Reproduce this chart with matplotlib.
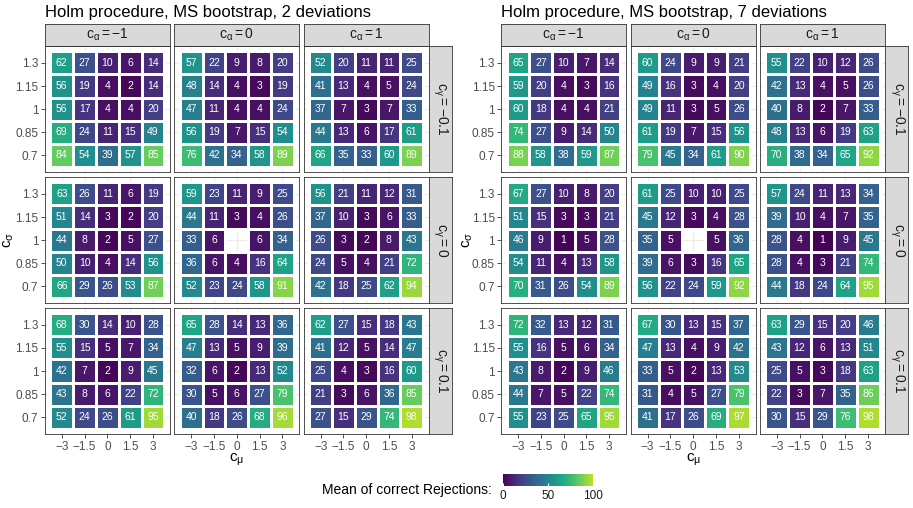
import numpy as np
import matplotlib
matplotlib.use("Agg")
import matplotlib.pyplot as plt
from matplotlib.cm import ScalarMappable
from matplotlib.colors import Normalize, ListedColormap

plt.rcParams["font.family"] = ["Liberation Sans", "DejaVu Sans"]
plt.rcParams["mathtext.fontset"] = "custom"
plt.rcParams["mathtext.rm"] = "Liberation Sans"
plt.rcParams["mathtext.it"] = "Liberation Sans"
plt.rcParams["mathtext.sf"] = "Liberation Sans"

# --- axes values ---
c_mu = [-3, -1.5, 0, 1.5, 3]
c_sigma = [1.3, 1.15, 1, 0.85, 0.7]          # top -> bottom, same order as rows below
c_alpha = [-1, 0, 1]
c_gamma = [-0.1, 0, 0.1]
mu_labels = ["\u22123", "\u22121.5", "0", "1.5", "3"]
sigma_labels = ["1.3", "1.15", "1", "0.85", "0.7"]
alpha_labels = [r"$\mathregular{c_{\alpha} = -1}$", r"$\mathregular{c_{\alpha} = 0}$",
                r"$\mathregular{c_{\alpha} = 1}$"]
gamma_labels = [r"$\mathregular{c_{\gamma} = -0.1}$", r"$\mathregular{c_{\gamma} = 0}$",
                r"$\mathregular{c_{\gamma} = 0.1}$"]
nan = np.nan

# --- 2 deviations: one list per c_gamma, 3 grids (c_alpha = -1, 0, 1) ---
dev2_gneg = [
    [[62, 27, 10, 6, 14], [56, 19, 4, 2, 14], [56, 17, 4, 4, 20], [69, 24, 11, 15, 49], [84, 54, 39, 57, 85]],
    [[57, 22, 9, 8, 20], [48, 14, 4, 3, 19], [47, 11, 4, 4, 24], [56, 19, 7, 15, 54], [76, 42, 34, 58, 89]],
    [[52, 20, 11, 11, 25], [41, 13, 4, 5, 24], [37, 7, 3, 7, 33], [44, 13, 6, 17, 61], [66, 35, 33, 60, 89]],
]
dev2_gzero = [
    [[63, 26, 11, 6, 19], [51, 14, 3, 2, 20], [44, 8, 2, 5, 27], [50, 10, 4, 14, 56], [66, 29, 26, 53, 87]],
    [[59, 23, 11, 9, 25], [44, 11, 3, 4, 26], [33, 6, nan, 6, 34], [36, 6, 4, 16, 64], [52, 23, 24, 58, 91]],
    [[56, 21, 11, 12, 31], [37, 10, 3, 6, 33], [26, 3, 2, 8, 43], [24, 5, 4, 21, 72], [42, 18, 25, 62, 94]],
]
dev2_gpos = [
    [[68, 30, 14, 10, 28], [55, 15, 5, 7, 34], [42, 7, 2, 9, 45], [43, 8, 6, 22, 72], [52, 24, 26, 61, 95]],
    [[65, 28, 14, 13, 36], [47, 13, 5, 9, 39], [32, 6, 2, 13, 52], [30, 5, 6, 27, 79], [40, 18, 26, 68, 96]],
    [[62, 27, 15, 18, 43], [41, 12, 5, 14, 47], [25, 4, 3, 16, 60], [21, 3, 6, 36, 85], [27, 15, 29, 74, 98]],
]

# --- 7 deviations ---
dev7_gneg = [
    [[65, 27, 10, 7, 14], [59, 20, 4, 3, 16], [60, 18, 4, 4, 21], [74, 27, 9, 14, 50], [88, 58, 38, 59, 87]],
    [[60, 24, 9, 9, 21], [49, 16, 3, 4, 20], [49, 11, 3, 5, 26], [61, 19, 7, 15, 56], [79, 45, 34, 61, 90]],
    [[55, 22, 10, 12, 26], [42, 13, 4, 5, 26], [40, 8, 2, 7, 33], [48, 13, 6, 19, 63], [70, 38, 34, 65, 92]],
]
dev7_gzero = [
    [[67, 27, 10, 8, 20], [51, 15, 3, 3, 21], [46, 9, 1, 5, 28], [54, 11, 4, 13, 58], [70, 31, 26, 54, 89]],
    [[61, 25, 10, 10, 25], [45, 12, 3, 4, 28], [35, 5, nan, 5, 36], [39, 6, 3, 16, 65], [56, 22, 24, 59, 92]],
    [[57, 24, 11, 13, 34], [39, 10, 4, 7, 35], [28, 4, 1, 9, 45], [28, 4, 3, 21, 74], [44, 18, 24, 64, 95]],
]
dev7_gpos = [
    [[72, 32, 13, 12, 31], [55, 16, 5, 6, 34], [43, 8, 2, 9, 46], [44, 7, 5, 22, 74], [55, 23, 25, 65, 95]],
    [[67, 30, 13, 15, 37], [47, 13, 4, 9, 42], [33, 5, 2, 13, 53], [31, 4, 5, 27, 79], [41, 17, 26, 69, 97]],
    [[63, 29, 15, 20, 46], [43, 12, 6, 13, 51], [25, 5, 3, 18, 63], [22, 3, 7, 35, 86], [30, 15, 29, 76, 98]],
]

W, H = 913, 508
fig = plt.figure(figsize=(W / 100, H / 100), dpi=100)
BORDER = "#333333"
# viridis cut short at the yellow-green end, like the reference
CMAP = ListedColormap(plt.get_cmap("viridis")(np.linspace(0, 0.9, 256)))


def px_axes(x0, y0, x1, y1):
    return fig.add_axes([x0 / W, 1 - y1 / H, (x1 - x0) / W, (y1 - y0) / H])


def draw_facet(ax, grid, left, bottom):
    z = np.ma.masked_invalid(np.array(grid, dtype=float))
    xe = np.arange(-3.75, 3.76, 1.5)
    ye = np.array([1.375, 1.225, 1.075, 0.925, 0.775, 0.625])
    # grid lines (theme_bw)
    for v in [-2.25, -0.75, 0.75, 2.25]:
        ax.axvline(v, color="#F4F4F4", lw=0.5, zorder=0)
    for v in [1.225, 1.075, 0.925, 0.775]:
        ax.axhline(v, color="#F4F4F4", lw=0.5, zorder=0)
    for v in c_mu:
        ax.axvline(v, color="#EBEBEB", lw=0.9, zorder=0)
    for v in c_sigma:
        ax.axhline(v, color="#EBEBEB", lw=0.9, zorder=0)
    ax.pcolormesh(xe, ye, z, cmap=CMAP, vmin=0, vmax=100,
                  edgecolors="white", linewidth=0.9, zorder=1)
    for i, s in enumerate(c_sigma):
        for j, m in enumerate(c_mu):
            v = grid[i][j]
            if not np.isnan(v):
                ax.text(m, s, f"{int(v)}", ha="center", va="center",
                        color="white", fontsize=7.5, zorder=2)
    ax.set_xlim(-4.125, 4.125)
    ax.set_ylim(0.5875, 1.4125)
    ax.set_xticks(c_mu)
    ax.set_yticks(c_sigma)
    ax.tick_params(length=3, width=0.6, color=BORDER, labelsize=8.5,
                   labelcolor="#4D4D4D", pad=1.5)
    ax.set_xticklabels(mu_labels if bottom else [])
    ax.set_yticklabels(sigma_labels if left else [])
    if not left:
        ax.tick_params(axis="y", length=0)
    if not bottom:
        ax.tick_params(axis="x", length=0)
    for sp in ax.spines.values():
        sp.set_color(BORDER)
        sp.set_linewidth(0.6)


def strip(x0, y0, x1, y1, label, rot=0):
    ax = px_axes(x0, y0, x1, y1)
    ax.set_facecolor("#D9D9D9")
    ax.set_xticks([])
    ax.set_yticks([])
    for sp in ax.spines.values():
        sp.set_color(BORDER)
        sp.set_linewidth(0.6)
    ax.text(0.5, 0.5, label, ha="center", va="center", rotation=rot,
            fontsize=10, color="#1A1A1A", transform=ax.transAxes)


def draw_block(cols, strip_right, rows_data, title, ylab_x):
    rows = [(45.7, 172.4), (176.7, 303.4), (307.7, 434.3)]
    for r, (y0, y1) in enumerate(rows):
        for c, (x0, x1) in enumerate(cols):
            ax = px_axes(x0, y0, x1, y1)
            draw_facet(ax, rows_data[r][c], left=(c == 0), bottom=(r == 2))
        strip(cols[-1][1], y0, strip_right, y1, gamma_labels[r], rot=-90)
    for c, (x0, x1) in enumerate(cols):
        strip(x0, 24.3, x1, 45.7, alpha_labels[c])
    fig.text(cols[0][0] / W, 1 - 13 / H, title, fontsize=12, ha="left", va="center")
    xc = (cols[0][0] + cols[-1][1]) / 2
    fig.text(xc / W, 1 - 452 / H, r"$\mathregular{c_{\mu}}$", fontsize=11,
             ha="center", va="top")
    fig.text(ylab_x / W, 1 - 240 / H, r"$\mathregular{c_{\sigma}}$", fontsize=11,
             ha="center", va="center", rotation=90)


draw_block([(44.7, 170), (174.3, 299.4), (303.7, 428.7)], 452,
           [dev2_gneg, dev2_gzero, dev2_gpos],
           "Holm procedure, MS bootstrap, 2 deviations", 9)
draw_block([(501, 626), (630.5, 756), (759.5, 885.3)], 908,
           [dev7_gneg, dev7_gzero, dev7_gpos],
           "Holm procedure, MS bootstrap, 7 deviations", 468)

# legend
cax = px_axes(503, 474, 593, 486)
cb = fig.colorbar(ScalarMappable(norm=Normalize(0, 100), cmap=CMAP),
                  cax=cax, orientation="horizontal")
cb.outline.set_visible(False)
cb.set_ticks([0, 50, 100])
cax.tick_params(length=2, color="white", direction="in", labelsize=8.5,
                labelcolor="#1A1A1A", pad=3)
fig.text(492 / W, 1 - 490 / H, "Mean of correct Rejections:", fontsize=10,
         ha="right", va="center")

fig.savefig("out.png", dpi=100)
